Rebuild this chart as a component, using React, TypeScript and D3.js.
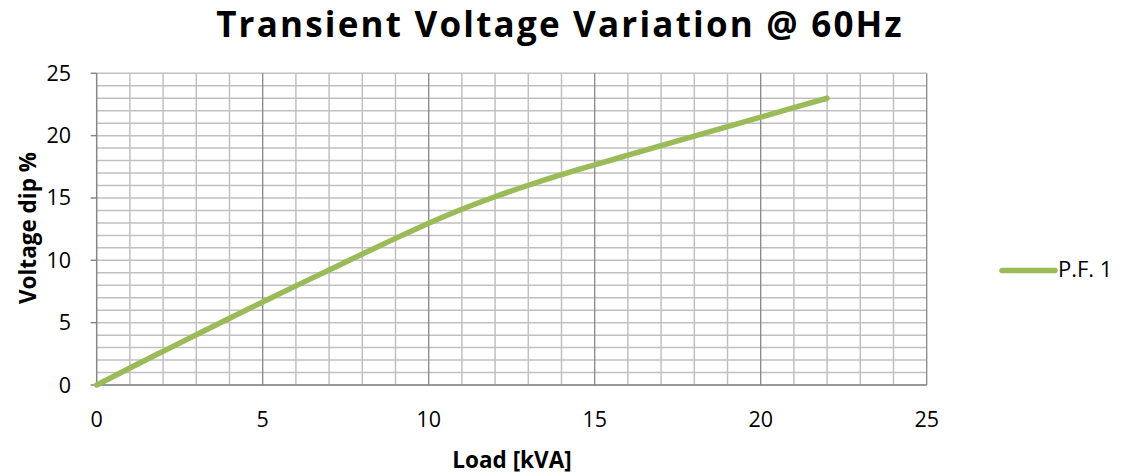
import React from "react";
import * as d3 from "d3";

const loadKVA = [0, 1, 2, 3, 4, 5, 6, 7, 8, 9, 10, 11, 12, 13, 14, 15, 16, 17, 18, 19, 20, 21, 22];
const dipPF1 = [0, 1.36, 2.7, 4.03, 5.35, 6.66, 7.95, 9.22, 10.5, 11.76, 12.98, 14.1, 15.1, 16.02, 16.87, 17.66, 18.43, 19.2, 19.96, 20.72, 21.48, 22.24, 23.0];
const xTicks = [0, 5, 10, 15, 20, 25];
const yTicks = [0, 5, 10, 15, 20, 25];
const seriesName = "P.F. 1";
const title = "Transient Voltage Variation @ 60Hz";

export default function App() {
  const W = 1124, H = 476;
  const x = d3.scaleLinear().domain([0, 25]).range([96.7, 926.7]);
  const y = d3.scaleLinear().domain([0, 25]).range([385, 73.3]);
  const font = "'Open Sans', sans-serif";
  const minor = d3.range(0, 26, 1);
  const line = d3
    .line<number>()
    .x((_, i) => x(loadKVA[i]))
    .y((d) => y(d))
    .curve(d3.curveMonotoneX);
  return (
    <svg width={W} height={H} style={{ position: "absolute", left: 0, top: 0 }}>
      <rect width={W} height={H} fill="#fff" />
      <text x={560} y={37} textAnchor="middle" fontFamily={font} fontWeight="bold" fontSize={35} letterSpacing={2.2} fill="#000">
        {title}
      </text>
      {/* horizontal grid */}
      {minor.map((v) => (
        <line key={"h" + v} x1={x(0)} x2={x(25)} y1={y(v)} y2={y(v)} stroke="#c0c0c0" strokeWidth={1.5} />
      ))}
      {/* vertical minor grid */}
      {minor.filter((v) => v % 5 !== 0).map((v) => (
        <line key={"v" + v} x1={x(v)} x2={x(v)} y1={y(0)} y2={y(25)} stroke="#c0c0c0" strokeWidth={1.5} />
      ))}
      {xTicks.filter((v) => v !== 0).map((v) => (
        <line key={"vm" + v} x1={x(v)} x2={x(v)} y1={y(0)} y2={y(25)} stroke="#878787" strokeWidth={1.3} />
      ))}
      {/* axes */}
      <line x1={x(0)} x2={x(0)} y1={y(0)} y2={y(25)} stroke="#868686" strokeWidth={1.5} />
      <line x1={x(0)} x2={x(25)} y1={y(0)} y2={y(0)} stroke="#868686" strokeWidth={1.5} />
      {yTicks.map((v) => (
        <g key={"yt" + v}>
          <line x1={x(0) - 6} x2={x(0)} y1={y(v)} y2={y(v)} stroke="#868686" strokeWidth={1.5} />
          <text x={71} y={y(v) + 7.5} textAnchor="end" fontFamily={font} fontSize={21.5} fill="#000">
            {v}
          </text>
        </g>
      ))}
      {xTicks.map((v) => (
        <text key={"xt" + v} x={x(v)} y={427} textAnchor="middle" fontFamily={font} fontSize={21.5} fill="#000">
          {v}
        </text>
      ))}
      <text x={512} y={468} textAnchor="middle" fontFamily={font} fontWeight="bold" fontSize={22.5} fill="#000">
        Load [kVA]
      </text>
      <text
        transform={`translate(36,228) rotate(-90)`}
        textAnchor="middle"
        fontFamily={font}
        fontWeight="bold"
        fontSize={22.5}
        fill="#000"
      >
        Voltage dip %
      </text>
      <path d={line(dipPF1) || ""} fill="none" stroke="#9BBB59" strokeWidth={5.5} strokeLinecap="round" strokeLinejoin="round" />
      {/* legend */}
      <line x1={1002} x2={1055} y1={270.5} y2={270.5} stroke="#9BBB59" strokeWidth={5.5} strokeLinecap="round" />
      <text x={1058} y={277} fontFamily={font} fontSize={22} fill="#000">
        {seriesName}
      </text>
    </svg>
  );
}
